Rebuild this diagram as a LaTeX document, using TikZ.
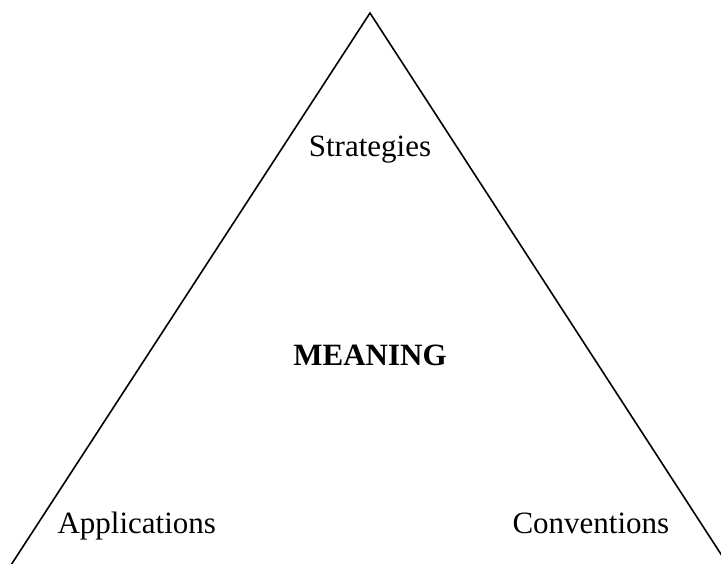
\documentclass[tikz,border=0pt]{standalone}
\usepackage{fontspec}
\setmainfont{Liberation Serif}
\begin{document}
\begin{tikzpicture}[x=1pt, y=-1pt, every node/.style={font=\fontsize{31}{37}\selectfont}]
        \useasboundingbox (0, 0) rectangle (721, 563);
        \clip (0, 0) rectangle (721, 563);
        \coordinate (top) at (370, 13);
        \coordinate (left) at (11, 565);
        \coordinate (right) at (728, 565);

        \node[anchor = base] (strat) at (370, 156) {Strategies};
        \node[anchor = base] (mean) at (370, 365) {\textbf{MEANING}};
        \node[anchor = base west] (appl) at (54, 533) {Applications};
        \node[anchor = base west] (conv) at (509, 533) {Conventions};

        \draw[line width = 1.6pt] (left) -- (top) -- (right);
    \end{tikzpicture}
\end{document}
